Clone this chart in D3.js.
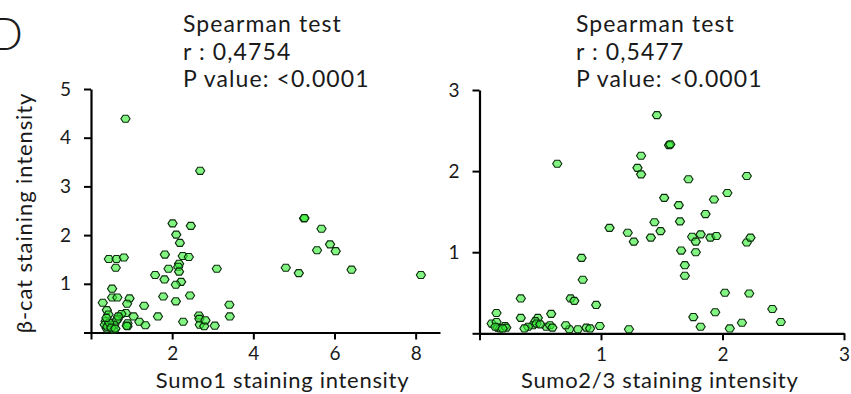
<!DOCTYPE html>
<html><head><meta charset="utf-8">
<script src="https://cdn.jsdelivr.net/npm/d3@7"></script>
<style>
body{margin:0;background:#fff;}
text{font-family:"Lato","Open Sans",sans-serif;fill:#1a1a1a;font-weight:400;}
</style></head><body>
<svg id="chart" width="851" height="394"></svg>
<script>
// ---- Data ----
const sumo1X = [0.85,2.69,2.01,2.46,2.10,2.19,1.82,2.26,2.41,2.17,2.15,1.91,2.17,1.58,1.81,2.22,2.09,1.78,2.44,2.09,3.10,1.65,2.27,2.66,2.67,2.68,2.79,2.82,3.05,3.41,3.42,
  5.25,5.26,5.68,5.89,6.03,5.57,4.80,5.12,6.42,8.13,
  0.44,0.63,0.81,0.61,0.52,0.52,0.65,0.95,0.89,0.29,1.31,0.39,0.43,0.86,0.75,0.66,1.05,1.19,1.34,0.90,0.90,
  0.36,0.43,0.39,0.55,0.63,0.67,0.88,0.34,0.57,0.40,0.45,0.50,0.38,0.60];
const betaCat1 = [4.39,3.32,2.24,2.19,2.01,1.84,1.60,1.57,1.55,1.41,1.35,1.31,1.25,1.18,1.09,1.04,0.98,0.74,0.76,0.64,1.31,0.33,0.22,0.35,0.28,0.16,0.13,0.25,0.14,0.57,0.33,
  2.34,2.35,2.13,1.81,1.67,1.69,1.33,1.22,1.29,1.18,
  1.51,1.51,1.54,1.33,0.90,0.72,0.72,0.70,0.59,0.61,0.55,0.46,0.37,0.40,0.38,0.28,0.33,0.22,0.15,0.19,0.13,
  0.23,0.16,0.08,0.06,0.25,0.33,0.14,0.16,0.16,0.12,0.20,0.10,0.30,0.08];

const sumo23X = [1.46,1.56,1.57,1.33,1.30,1.33,0.64,1.72,2.20,
  1.52,2.04,1.93,1.64,1.86,1.44,1.65,1.07,1.22,1.49,1.27,1.41,1.75,1.82,1.78,1.90,1.95,1.78,1.66,1.69,1.69,2.20,2.23,
  0.84,0.85,0.75,0.78,0.96,0.34,
  2.02,2.22,2.41,1.94,1.76,2.48,2.16,1.82,2.06,1.23,
  0.99,0.88,0.91,0.81,0.74,0.71,0.59,0.55,0.58,0.60,
  0.34,0.48,0.46,0.44,0.40,0.37,0.47,0.50,
  0.14,0.10,0.14,0.15,0.17,0.21,0.22,0.13,0.19];
const betaCat2 = [2.69,2.32,2.33,2.19,2.04,1.96,2.09,1.90,1.94,
  1.67,1.73,1.65,1.58,1.47,1.37,1.38,1.30,1.24,1.26,1.13,1.18,1.19,1.22,1.13,1.18,1.20,1.00,1.02,0.84,0.71,1.12,1.18,
  0.93,0.66,0.43,0.40,0.35,0.43,
  0.50,0.49,0.30,0.26,0.20,0.14,0.13,0.08,0.06,0.05,
  0.09,0.07,0.06,0.05,0.05,0.10,0.24,0.08,0.10,0.07,
  0.19,0.19,0.15,0.10,0.08,0.06,0.12,0.11,
  0.25,0.12,0.14,0.07,0.06,0.09,0.07,0.08,0.06];

const leftXTicks = [0,2,4,6,8];
const leftYTicks = [0,1,2,3,4,5];
const rightXTicks = [0,1,2,3];
const rightYTicks = [0,1,2,3];
const leftStats = ["Spearman test","r : 0,4754","P value: <0.0001"];
const rightStats = ["Spearman test","r : 0,5477","P value: <0.0001"];
const panelLabel = "D";
const yTitle = "β-cat staining intensity";
const leftXTitle = "Sumo1 staining intensity";
const rightXTitle = "Sumo2/3 staining intensity";

// ---- Drawing ----
const svg = d3.select("#chart");
const FONT = '"Lato","Open Sans",sans-serif';

function hexPath(r){
  const pts = d3.range(6).map(i=>{const a=Math.PI/3*i;return [r*Math.cos(a), r*0.88*Math.sin(a)];});
  return "M"+pts.map(p=>p[0].toFixed(2)+","+p[1].toFixed(2)).join("L")+"Z";
}
const hex = hexPath(4.6);

function panel(cfg){
  const x = d3.scaleLinear().domain(cfg.xDomain).range(cfg.xRange);
  const y = d3.scaleLinear().domain(cfg.yDomain).range(cfg.yRange);
  const g = svg.append("g");
  const xa = g.append("g").attr("transform",`translate(0,${cfg.yRange[0]})`)
    .call(d3.axisBottom(x).tickValues(cfg.xTicks).tickSize(7).tickSizeOuter(0).tickPadding(7)
      .tickFormat(d=>d===0?"":d));
  const ya = g.append("g").attr("transform",`translate(${cfg.xRange[0]},0)`)
    .call(d3.axisLeft(y).tickValues(cfg.yTicks).tickSize(7).tickSizeOuter(0).tickPadding(13)
      .tickFormat(d=>d===0?"":d));
  [xa,ya].forEach(a=>{
    a.select(".domain").attr("stroke","#000").attr("stroke-width",2.2);
    a.selectAll(".tick line").attr("stroke","#000").attr("stroke-width",2);
    a.selectAll("text").style("font-family",FONT).style("font-size","19px").style("font-weight","400").attr("fill","#1a1a1a");
  });
  g.append("g").selectAll("path").data(cfg.xs.map((v,i)=>[v,cfg.ys[i]])).join("path")
    .attr("d",hex)
    .attr("transform",d=>`translate(${x(d[0])},${y(d[1])})`)
    .attr("fill","#33ee33").attr("fill-opacity",0.62)
    .attr("stroke","#0d2a0d").attr("stroke-width",1.1);
  g.append("text").attr("x",(cfg.xRange[0]+cfg.xRange[1])/2+cfg.titleDx).attr("y",388)
    .attr("text-anchor","middle").style("font-size","22px").style("letter-spacing","0.7px").text(cfg.xTitle);
  const st = g.append("text").attr("x",cfg.statsX).attr("y",32)
    .style("font-size","23px").style("letter-spacing","1.1px");
  cfg.stats.forEach((s,i)=>st.append("tspan").attr("x",cfg.statsX).attr("y",32+i*27.5).text(s));
}

panel({xDomain:[0,8.6],xRange:[91,440],yDomain:[0,5],yRange:[332.5,89],
  xTicks:leftXTicks,yTicks:leftYTicks,xs:sumo1X,ys:betaCat1,
  xTitle:leftXTitle,titleDx:17,stats:leftStats,statsX:183});
panel({xDomain:[0,3],xRange:[479.5,844],yDomain:[0,3],yRange:[333.3,90],
  xTicks:rightXTicks,yTicks:rightYTicks,xs:sumo23X,ys:betaCat2,
  xTitle:rightXTitle,titleDx:-2,stats:rightStats,statsX:576});

svg.append("text").attr("x",-12).attr("y",50).style("font-size","46px").style("font-weight","300").text(panelLabel);
svg.append("text").attr("transform","translate(32,213) rotate(-90)").attr("text-anchor","middle")
  .style("font-size","22px").style("letter-spacing","0.9px").text(yTitle);
</script></body></html>
